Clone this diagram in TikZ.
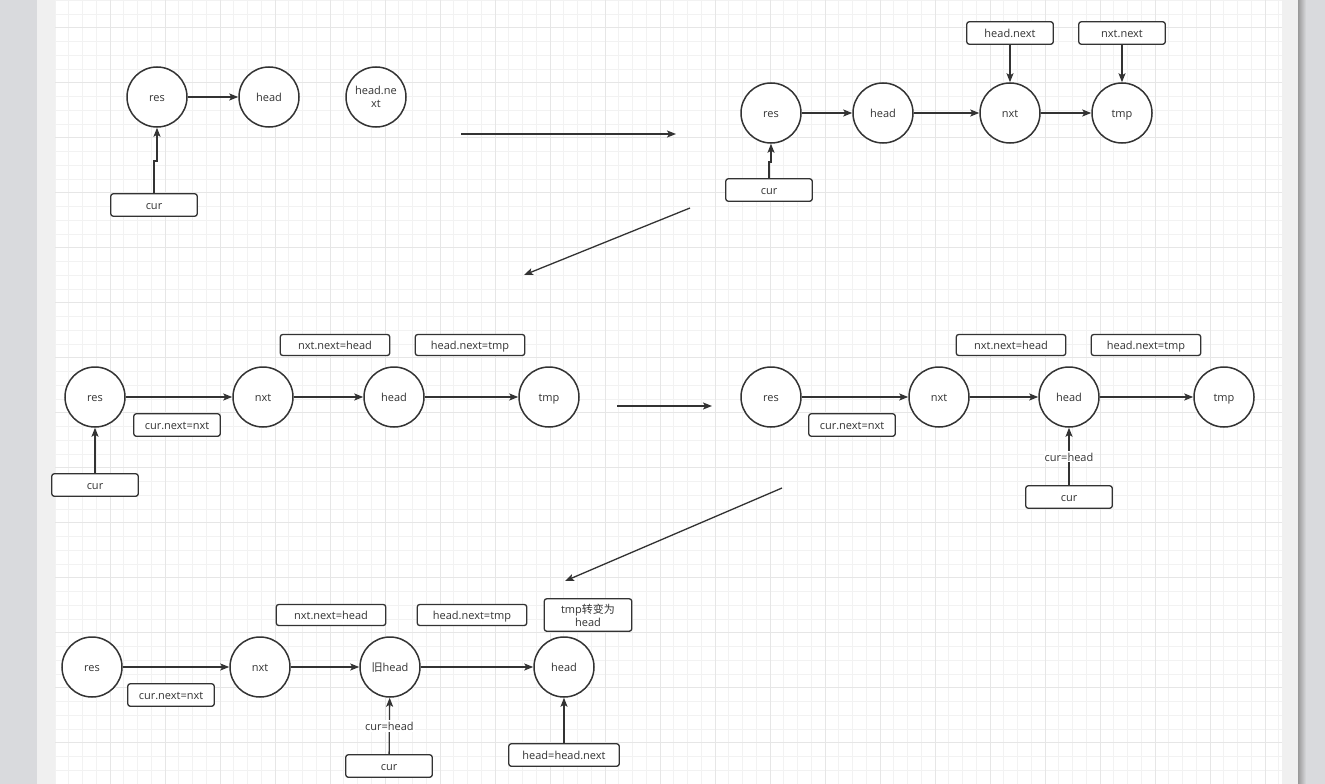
\documentclass[tikz,border=0pt]{standalone}
\usepackage{fontspec}
\setmainfont{Open Sans}
\newfontfamily\cjk{Noto Sans CJK SC}
\usetikzlibrary{arrows.meta}
\definecolor{ln}{HTML}{333333}
\definecolor{gmin}{HTML}{F2F2F2}
\definecolor{gmaj}{HTML}{E6E6E6}
\definecolor{strip}{HTML}{F0F0F0}
\definecolor{outer}{HTML}{D9DADD}

\begin{document}
\begin{tikzpicture}[
  x=1pt, y=-1pt,
  font=\fontsize{11}{13}\selectfont, text=ln,
  one/.style={text height=9.5pt, text depth=0pt},
  ndb/.style={circle, draw=ln, line width=1.5pt, minimum size=60pt,
              inner sep=0pt, align=center, fill=white},
  nd/.style={ndb, one},
  boxb/.style={draw=ln, line width=1.3pt, rounded corners=2.5pt,
               minimum width=86.5pt, minimum height=22.5pt,
               inner sep=1pt, align=center, fill=white},
  box/.style={boxb, one},
  wbox/.style={box, minimum width=109.5pt, minimum height=21pt},
  arr/.style={draw=ln, line width=1.3pt, -{Stealth[length=9pt,width=7pt,inset=2pt]}},
  lbl/.style={fill=white, inner sep=1pt, one},
]
\useasboundingbox (0,0) rectangle (1325,784);

% --- page background and grid ---
\fill[outer] (0,0) rectangle (1325,784);
\fill[strip] (37,0) rectangle (1298,784);
\fill[white] (55,0) rectangle (1282,784);
\shade[left color=black!40, right color=outer] (1298,0) rectangle (1306,784);
\foreach \gx in {0,...,89}
  \draw[gmin, line width=0.8pt] ({55+13.75*\gx},0) -- ++(0,784);
\foreach \gy in {0,...,57}
  \draw[gmin, line width=0.8pt] (55,{0.2+13.75*\gy}) -- (1282,{0.2+13.75*\gy});
\foreach \gx in {1,...,22}
  \draw[gmaj, line width=1pt] ({55+55*\gx},0) -- ++(0,784);
\foreach \gy in {0,...,13}
  \draw[gmaj, line width=1pt] (55,{27.7+55*\gy}) -- (1282,{27.7+55*\gy});

% --- step 1 ---
\node[nd] (res1)  at (157,97) {res};
\node[nd] (head1) at (269,97) {head};
\node[ndb] (hn1)  at (376,97) {head.ne\\xt};
\node[box] (cur1) at (154,205) {cur};
\draw[arr] (res1) -- (head1);
\draw[arr] (cur1.north) -- ++(0,-32) -| (res1.south);

% --- step 2 ---
\node[nd] (res2)  at (771,113) {res};
\node[nd] (head2) at (883,113) {head};
\node[nd] (nxt2)  at (1010,113) {nxt};
\node[nd] (tmp2)  at (1122,113) {tmp};
\node[box] (cur2) at (769,190) {cur};
\node[box] (hnx2) at (1010,33) {head.next};
\node[box] (nnx2) at (1122,33) {nxt.next};
\draw[arr] (res2) -- (head2);
\draw[arr] (head2) -- (nxt2);
\draw[arr] (nxt2) -- (tmp2);
\draw[arr] (hnx2) -- (nxt2);
\draw[arr] (nnx2) -- (tmp2);
\draw[arr] (cur2.north) -- ++(0,-16) -| (res2.south);

% --- step 3 ---
\node[nd] (res3)  at (95,397) {res};
\node[nd] (nxt3)  at (263,397) {nxt};
\node[nd] (head3) at (394,397) {head};
\node[nd] (tmp3)  at (549,397) {tmp};
\node[box] (cur3) at (95,485) {cur};
\node[wbox] (nnh3) at (335,345) {nxt.next=head};
\node[wbox] (hnt3) at (470,345) {head.next=tmp};
\node[box] (cnn3) at (177,425) {cur.next=nxt};
\draw[arr] (res3) -- (nxt3);
\draw[arr] (nxt3) -- (head3);
\draw[arr] (head3) -- (tmp3);
\draw[arr] (cur3) -- (res3);

% --- step 4 ---
\node[nd] (res4)  at (771,397) {res};
\node[nd] (nxt4)  at (939,397) {nxt};
\node[nd] (head4) at (1069,397) {head};
\node[nd] (tmp4)  at (1224,397) {tmp};
\node[box] (cur4) at (1069,497) {cur};
\node[wbox] (nnh4) at (1011,345) {nxt.next=head};
\node[wbox] (hnt4) at (1146,345) {head.next=tmp};
\node[box] (cnn4) at (852,425) {cur.next=nxt};
\draw[arr] (res4) -- (nxt4);
\draw[arr] (nxt4) -- (head4);
\draw[arr] (head4) -- (tmp4);
\draw[arr] (cur4) -- node[lbl]{cur=head} (head4);

% --- step 5 ---
\node[nd] (res5)  at (92,667) {res};
\node[nd] (nxt5)  at (260,667) {nxt};
\node[nd] (old5)  at (390,667) {{\cjk 旧}head};
\node[nd] (head5) at (564,667) {head};
\node[box] (cur5) at (389,766) {cur};
\node[wbox] (nnh5) at (331,615) {nxt.next=head};
\node[wbox] (hnt5) at (472,615) {head.next=tmp};
\node[boxb, minimum width=87.5pt, minimum height=32.5pt] (tz5) at (588,615)
  {tmp{\cjk 转变为}\\head};
\node[box] (cnn5) at (171,695) {cur.next=nxt};
\node[box, minimum width=110.5pt] (hhn5) at (564,755) {head=head.next};
\draw[arr] (res5) -- (nxt5);
\draw[arr] (nxt5) -- (old5);
\draw[arr] (old5) -- (head5);
\draw[arr] (cur5) -- node[lbl]{cur=head} (old5);
\draw[arr] (hhn5) -- (head5);

% --- transitions between steps ---
\coordinate (t1a) at (461,134);
\coordinate (t1b) at (676,134);
\coordinate (t2a) at (690,208);
\coordinate (t2b) at (524,275);
\coordinate (t3a) at (617,406);
\coordinate (t3b) at (712,406);
\coordinate (t4a) at (782,488);
\coordinate (t4b) at (565,581);
\draw[arr] (t1a) -- (t1b);
\draw[arr] (t2a) -- (t2b);
\draw[arr] (t3a) -- (t3b);
\draw[arr] (t4a) -- (t4b);
\end{tikzpicture}
\end{document}
